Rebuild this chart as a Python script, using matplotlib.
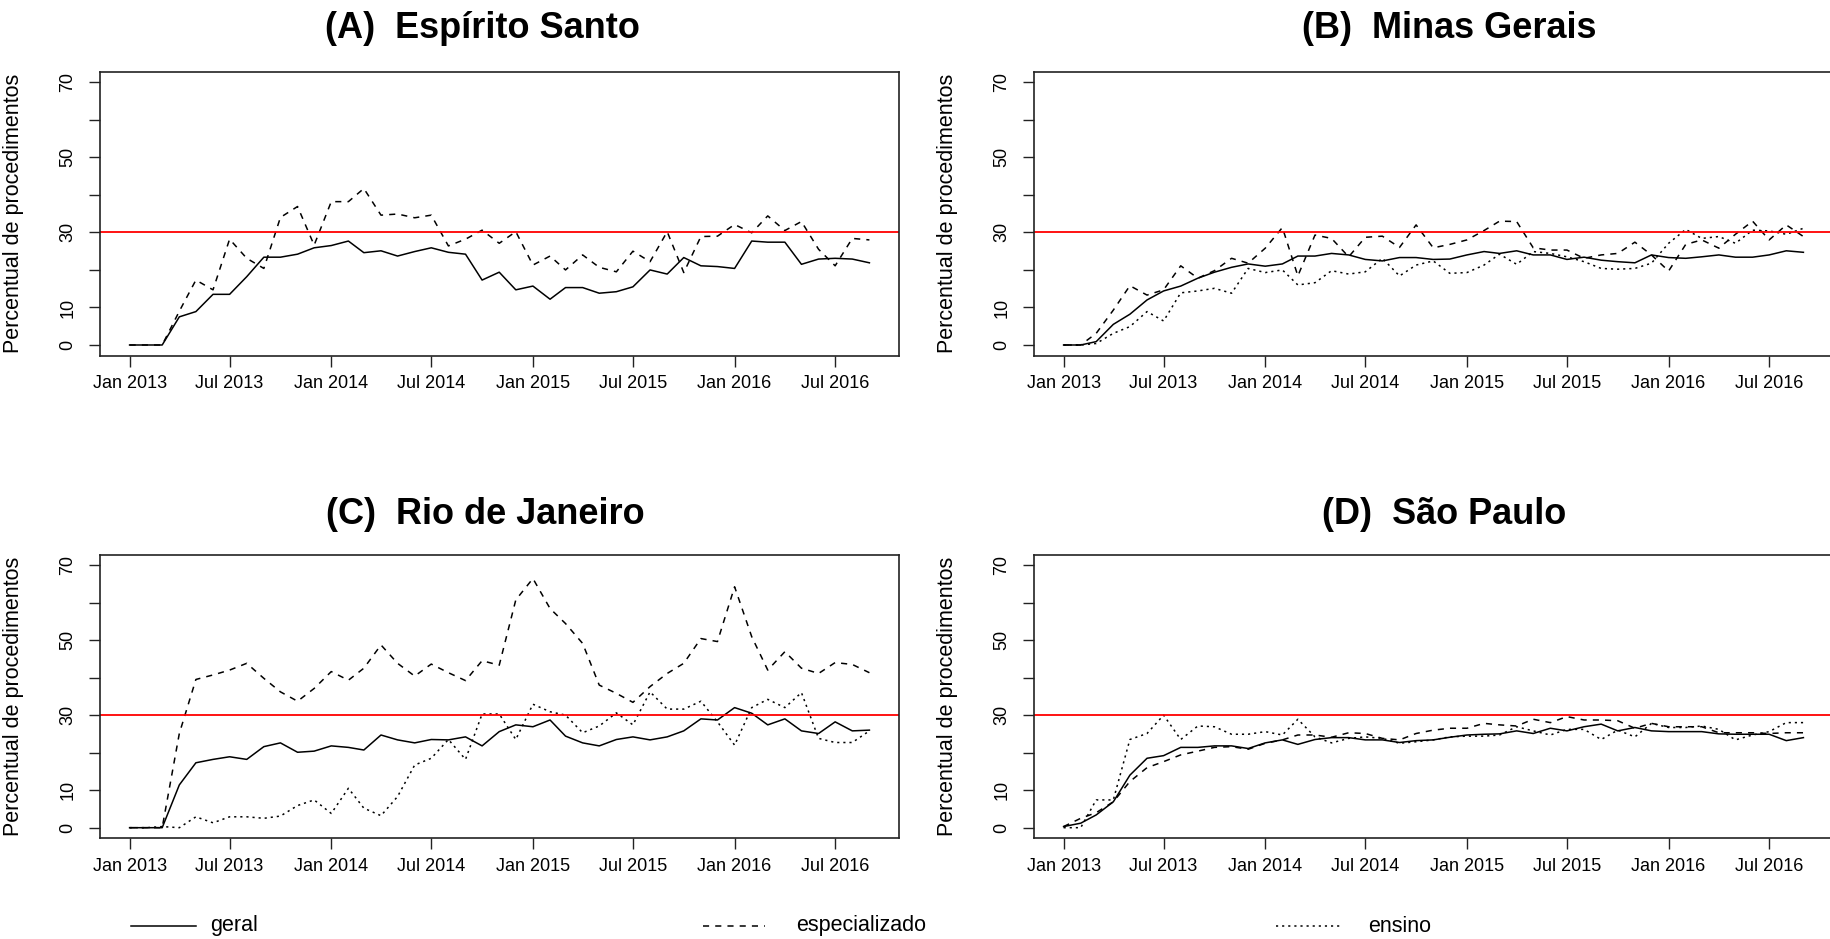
import numpy as np
import pandas as pd
import matplotlib
matplotlib.use('Agg')
import matplotlib.pyplot as plt
import matplotlib.dates as mdates
from matplotlib.lines import Line2D

plt.rcParams['font.family'] = ['Liberation Sans', 'DejaVu Sans']

# ---------------- data ----------------
months = pd.date_range('2013-01-01', periods=45, freq='MS')
tick_dates = pd.date_range('2013-01-01', periods=8, freq='6MS')
tick_labels = ['Jan 2013', 'Jul 2013', 'Jan 2014', 'Jul 2014',
               'Jan 2015', 'Jul 2015', 'Jan 2016', 'Jul 2016']
y_ticks = [0, 10, 20, 30, 40, 50, 60, 70]
y_ticklabels = ['0', '10', '', '30', '', '50', '', '70']
threshold = 30
series_names = ['geral', 'especializado', 'ensino']
titles = ['(A)  Espírito Santo', '(B)  Minas Gerais',
          '(C)  Rio de Janeiro', '(D)  São Paulo']

es_geral = [0, 0, 0, 7.5, 8.9, 13.5, 13.5, 18.2, 23.4, 23.4,
            24.2, 25.9, 26.5, 27.7, 24.6, 25.1, 23.7, 24.9, 25.9, 24.7,
            24.2, 17.3, 19.4, 14.7, 15.7, 12.2, 15.3, 15.3, 13.8, 14.2,
            15.5, 20.0, 18.9, 23.3, 21.1, 20.9, 20.4, 27.7, 27.4, 27.4,
            21.5, 22.9, 23.1, 22.9, 21.9]
es_espec = [0, 0, 0, 9.0, 17.3, 14.7, 28.2, 23.1, 20.4, 34.0,
            36.9, 26.6, 38.2, 38.2, 41.7, 34.6, 34.9, 33.9, 34.6, 26.4,
            28.2, 30.6, 27.1, 30.2, 21.3, 23.7, 20.0, 24.0, 20.7, 19.5,
            25.0, 22.2, 30.2, 19.3, 28.9, 29.0, 32.1, 29.9, 34.4, 30.5,
            32.9, 25.5, 21.1, 28.4, 28.0]

mg_geral = [0, 0, 0.9, 5.5, 8.2, 12.0, 14.4, 15.7, 17.8, 19.4,
            20.7, 21.6, 21.0, 21.6, 23.7, 23.7, 24.4, 24.0, 22.8, 22.4,
            23.3, 23.3, 22.8, 22.9, 24.0, 24.9, 24.4, 25.1, 24.0, 24.0,
            22.8, 23.4, 22.6, 22.2, 21.9, 24.0, 23.3, 23.1, 23.5, 24.0,
            23.4, 23.4, 24.0, 25.1, 24.7]
mg_espec = [0, 0, 3.1, 9.3, 15.8, 13.3, 14.7, 21.1, 17.8, 19.8,
            23.1, 21.8, 25.8, 31.3, 18.4, 29.3, 28.4, 23.5, 28.7, 29.0,
            26.0, 32.0, 25.9, 26.8, 28.0, 30.5, 33.0, 32.9, 25.9, 25.3,
            25.3, 23.1, 24.0, 24.4, 27.4, 24.0, 19.7, 26.8, 28.0, 25.8,
            29.5, 33.0, 28.0, 32.0, 28.9]
mg_ensino = [0, 0, 0.4, 3.1, 4.9, 8.9, 6.4, 13.9, 14.4, 15.1,
             13.8, 20.4, 19.3, 20.0, 16.0, 16.6, 19.8, 18.9, 19.5, 23.1,
             18.4, 21.3, 22.4, 19.1, 19.3, 21.3, 24.2, 21.5, 24.9, 24.4,
             23.5, 22.2, 20.4, 20.2, 20.4, 21.8, 27.1, 30.8, 28.4, 28.9,
             27.1, 30.6, 30.4, 29.5, 31.1]

rj_geral = [0, 0, 0, 11.4, 17.3, 18.2, 18.9, 18.2, 21.6, 22.6,
            20.1, 20.4, 21.8, 21.4, 20.7, 24.7, 23.4, 22.6, 23.5, 23.4,
            24.2, 21.8, 25.6, 27.4, 26.9, 28.7, 24.4, 22.6, 21.8, 23.5,
            24.2, 23.4, 24.2, 25.8, 29.0, 28.7, 32.0, 30.5, 27.4, 29.0,
            25.8, 25.1, 28.2, 25.8, 26.0]
rj_espec = [0, 0, 0, 25.1, 39.5, 40.7, 42.0, 43.8, 39.8, 36.2,
            33.7, 37.1, 41.6, 39.3, 42.5, 48.7, 43.8, 40.4, 43.6, 41.3,
            39.2, 44.5, 43.3, 60.7, 66.4, 58.4, 54.4, 49.1, 38.0, 35.8,
            33.4, 37.6, 41.1, 43.8, 50.4, 49.6, 64.2, 50.9, 42.0, 46.9,
            42.5, 41.1, 44.0, 43.5, 41.3]
rj_ensino = [0, 0, 0.3, 0, 2.9, 1.3, 2.9, 2.9, 2.5, 3.1,
             5.9, 7.4, 3.8, 10.5, 5.2, 3.2, 8.3, 16.7, 18.5, 23.5,
             18.2, 30.3, 30.3, 23.5, 32.9, 30.9, 30.0, 25.3, 27.1, 30.6,
             27.4, 36.2, 31.6, 31.6, 33.7, 28.2, 22.0, 32.0, 34.2, 32.0,
             36.0, 23.8, 22.7, 22.7, 25.8]

sp_geral = [0.3, 1.2, 3.4, 6.9, 14.0, 18.5, 19.2, 21.4, 21.4, 21.8,
            21.8, 21.1, 22.6, 23.4, 22.2, 23.5, 24.0, 24.0, 23.4, 23.4,
            22.7, 23.2, 23.4, 24.1, 24.7, 24.9, 25.0, 25.8, 25.1, 26.5,
            25.8, 26.9, 27.6, 25.8, 26.7, 25.8, 25.6, 25.6, 25.6, 25.0,
            24.9, 24.9, 24.9, 23.2, 24.0]
sp_espec = [0.3, 2.5, 4.0, 6.9, 12.3, 16.0, 17.6, 19.4, 20.4, 21.4,
            21.6, 20.9, 22.5, 23.4, 24.7, 24.7, 24.1, 25.3, 25.1, 23.8,
            23.4, 25.1, 26.0, 26.5, 26.5, 27.8, 27.4, 27.1, 28.9, 28.0,
            29.6, 28.7, 28.7, 28.5, 26.5, 27.8, 26.9, 26.9, 26.9, 25.3,
            25.3, 25.3, 25.1, 25.3, 25.3]
sp_ensino = [0, 0, 7.4, 7.4, 23.5, 25.1, 30.0, 23.5, 27.1, 26.9,
             24.9, 24.9, 25.6, 24.7, 28.9, 24.2, 22.6, 23.8, 24.2, 23.8,
             22.5, 22.9, 23.4, 24.2, 24.4, 24.4, 24.7, 26.9, 25.8, 24.7,
             26.2, 26.2, 23.5, 26.0, 24.2, 27.8, 26.7, 26.7, 27.1, 26.2,
             23.4, 24.7, 25.6, 28.0, 28.0]

panel_data = [
    (es_geral, es_espec, None),
    (mg_geral, mg_espec, mg_ensino),
    (rj_geral, rj_espec, rj_ensino),
    (sp_geral, sp_espec, sp_ensino),
]

# ---------------- layout ----------------
W, H = 1831, 939
fig = plt.figure(figsize=(W / 100, H / 100), dpi=100)

def px_axes(left, top, width, height):
    return fig.add_axes([left / W, 1 - (top + height) / H, width / W, height / H])

ax_boxes = [(100, 71.8, 799, 283.7), (1034, 71.8, 799, 283.7),
            (100, 554.5, 799, 283.7), (1034, 554.5, 799, 283.7)]
title_pos = [(482, 29), (1449, 29), (485, 515), (1444, 515)]

styles = {
    'geral': dict(linestyle='-'),
    'especializado': dict(linestyle=(0, (4, 4))),
    'ensino': dict(linestyle=(0, (1.4, 2.6))),
}
LW = 1.1

xnum = mdates.date2num(months.to_pydatetime())
xr = xnum[-1] - xnum[0]
xlim = (xnum[0] - 0.04 * xr, xnum[-1] + 0.04 * xr)
ylim = (-0.04 * 70, 70 + 0.04 * 70)

for k, (box, data) in enumerate(zip(ax_boxes, panel_data)):
    ax = px_axes(*box)
    for name, vals in zip(series_names, data):
        if vals is None:
            continue
        ax.plot(months, vals, color='black', lw=LW, **styles[name])
    ax.axhline(threshold, color='#ff0000', lw=1.3)
    ax.set_xlim(mdates.num2date(xlim[0]), mdates.num2date(xlim[1]))
    ax.set_ylim(*ylim)
    ax.set_xticks(tick_dates)
    ax.set_xticklabels(tick_labels)
    ax.set_yticks(y_ticks)
    ax.set_yticklabels(y_ticklabels, rotation=90, va='center')
    ax.tick_params(axis='both', direction='out', length=8, width=1.0,
                   labelsize=13, color='#222222')
    ax.tick_params(axis='x', pad=6)
    ax.tick_params(axis='y', pad=9)
    for sp in ax.spines.values():
        sp.set_linewidth(1.2)
        sp.set_color('#222222')
    ax.set_ylabel('Percentual de procedimentos', fontsize=15.5)
    ax.yaxis.set_label_coords(-0.095, 0.5)
    fig.text(title_pos[k][0] / W, 1 - title_pos[k][1] / H, titles[k],
             ha='center', va='center', fontsize=26, fontweight='bold')

# ---------------- legend ----------------
leg_y = 1 - 926 / H
leg_items = [(131, 196, 210), (703, 765, 796), (1276, 1340, 1368)]
for name, (x0, x1, xt) in zip(series_names, leg_items):
    fig.add_artist(Line2D([x0 / W, x1 / W], [leg_y, leg_y], color='black',
                          lw=LW, transform=fig.transFigure, **styles[name]))
    fig.text(xt / W, leg_y, name, ha='left', va='center', fontsize=15.5)

fig.savefig('out.png', dpi=100)
